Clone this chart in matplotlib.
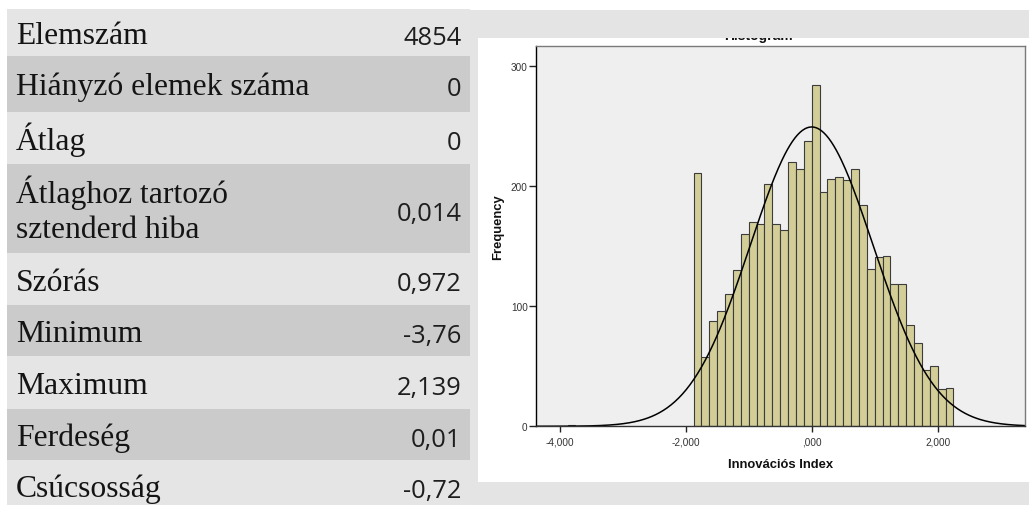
import numpy as np
import matplotlib
matplotlib.use("Agg")
import matplotlib.pyplot as plt
from matplotlib.patches import Rectangle

# Descriptive statistics shown in the table
stat_labels = ["Elemszám", "Hiányzó elemek száma", "Átlag",
               "Átlaghoz tartozó\nsztenderd hiba", "Szórás", "Minimum",
               "Maximum", "Ferdeség", "Csúcsosság"]
stat_values = ["4854", "0", "0", "0,014", "0,972", "-3,76", "2,139",
               "0,01", "-0,72"]

# Histogram of the index (bin width 0.125, main block starts at -1.875)
n_items = 4854
mean_value = 0.0
std_value = 0.972
bin_width = 0.125
first_bin = -1.875
counts = [211, 58, 88, 96, 110, 130, 160, 170, 168, 202, 168, 163, 220,
          214, 237, 284, 195, 206, 207, 205, 214, 184, 131, 141, 142, 118,
          118, 84, 69, 47, 50, 31, 32]
outlier_bin = -3.875
outlier_count = 1

x_ticks = [-4, -2, 0, 2]
x_tick_labels = ["-4,000", "-2,000", ",000", "2,000"]
y_ticks = [0, 100, 200, 300]

W, H = 1029, 506


def fx(px):
    return px / W


def fy(py):
    return 1 - py / H


def frect(x0, y0, x1, y1, color, z):
    # rectangle given in pixel coordinates (y measured from the top)
    return Rectangle((fx(x0), fy(y1)), (x1 - x0) / W, (y1 - y0) / H,
                     transform=fig.transFigure, facecolor=color,
                     edgecolor="none", zorder=z)


fig = plt.figure(figsize=(W / 100, H / 100), dpi=100)
fig.patch.set_facecolor("white")

# ---- statistics table ----
row_edges = [10, 56.7, 112.7, 165, 254, 305.7, 356.7, 410, 460.7, 512]
light, dark = "#e5e5e5", "#cbcbcb"
for i, (label, value) in enumerate(zip(stat_labels, stat_values)):
    top, bottom = row_edges[i], row_edges[i + 1]
    fig.patches.append(frect(7.3, top, 470, bottom,
                             dark if i % 2 else light, -3))
    mid = (top + bottom) / 2
    lines = label.split("\n")
    for k, line in enumerate(lines):
        base = mid + 10.8 + (k - (len(lines) - 1) / 2) * 35
        fig.text(fx(16), fy(base), line, ha="left", va="baseline",
                 fontsize=22.8, family="Liberation Serif", color="#141414")
    fig.text(fx(461.7), fy(mid + 11.5), value, ha="right", va="baseline",
             fontsize=18.4, family="Open Sans", color="#1e1e1e")

# ---- chart panel ----
fig.patches.append(frect(470, 10.7, W, H, "#e4e4e4", -3))
fig.patches.append(frect(478, 39, W, 483.3, "white", -2))

ax = fig.add_axes([fx(535.5), fy(427.3), (1025 - 535.5) / W,
                   (427.3 - 47) / H])
ax.set_facecolor("#efefef")

lefts = first_bin + bin_width * np.arange(len(counts))
bar_style = dict(width=bin_width, align="edge", color="#d3ce97",
                 edgecolor="#3c3c3c", linewidth=0.8)
ax.bar(lefts, counts, **bar_style)
ax.bar([outlier_bin], [outlier_count], **bar_style)

# normal curve scaled to the counts
xs = np.linspace(-4.5, 3.5, 400)
pdf = np.exp(-0.5 * ((xs - mean_value) / std_value) ** 2) / (std_value * np.sqrt(2 * np.pi))
ax.plot(xs, n_items * bin_width * pdf, color="black", linewidth=1.1)

ax.set_xlim(-4.384, 3.386)
ax.set_ylim(0, 316.4)
ax.set_xticks(x_ticks)
ax.set_xticklabels(x_tick_labels)
ax.set_yticks(y_ticks)
ax.tick_params(axis="x", length=4, width=1, pad=3.2, labelsize=7.2,
               labelcolor="#333333", color="#222222")
ax.tick_params(axis="y", length=5, width=1, pad=0.6, labelsize=7.2,
               labelcolor="#333333", color="#222222")
for lab in ax.get_xticklabels() + ax.get_yticklabels():
    lab.set_family("Liberation Sans")

ax.spines["left"].set_color("black")
ax.spines["bottom"].set_color("#333333")
ax.spines["top"].set_color("#7a7a7a")
ax.spines["right"].set_color("#7a7a7a")
for sp in ax.spines.values():
    sp.set_linewidth(1.0)
    sp.set_zorder(3)

ax.set_xlabel("Innovációs Index", fontsize=9.4, fontweight="bold",
              family="Liberation Sans", color="#111111")
ax.xaxis.set_label_coords(0.5, (427.3 - 467.7) / 380.3)
ax.xaxis.label.set_va("baseline")
ax.set_ylabel("Frequency", fontsize=9.4, fontweight="bold",
              family="Liberation Sans", color="#111111")
ax.yaxis.set_label_coords((497.7 - 535.5) / 489.5, (427.3 - 227.5) / 380.3)
ax.yaxis.label.set_va("center")

# title sits partly under the grey band above the panel
ax.set_title("Histogram", fontsize=10, fontweight="bold",
             family="Liberation Sans", y=(427.3 - 40) / 380.3,
             va="baseline", color="#111111", pad=0)
ax.title.set_x((758 - 535.5) / 489.5)
fig.patches.append(frect(470, 10.7, W, 39, "#e4e4e4", 5))

fig.savefig("out.png", dpi=100)
